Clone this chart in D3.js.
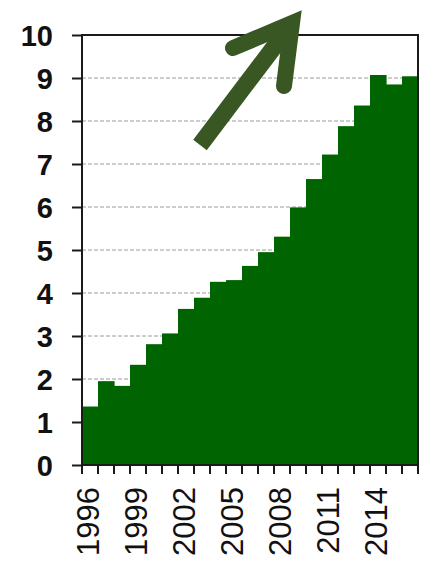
<!DOCTYPE html>
<html>
<head>
<meta charset="utf-8">
<script src="https://cdn.jsdelivr.net/npm/d3@7"></script>
<style>
  html, body { margin: 0; padding: 0; background: #fff; }
  svg { display: block; }
</style>
</head>
<body>
<svg id="chart" width="437" height="570"></svg>
<script>
const years = d3.range(1996, 2017);
const values = [1.36, 1.95, 1.84, 2.33, 2.81, 3.06, 3.63, 3.89, 4.26, 4.30, 4.63,
                4.95, 5.31, 5.99, 6.65, 7.22, 7.88, 8.36, 9.07, 8.85, 9.04];
const yTicks = [0, 1, 2, 3, 4, 5, 6, 7, 8, 9, 10];
const xLabelYears = [1996, 1999, 2002, 2005, 2008, 2011, 2014];

const svg = d3.select("#chart");
const pL = 82, pR = 418, pT = 35, pB = 465;

const x = d3.scaleBand().domain(years).range([pL, pR]).padding(0);
const y = d3.scaleLinear().domain([0, 10]).range([pB, pT]);
const bw = x.bandwidth();

// gridlines
svg.append("g").selectAll("line")
  .data(yTicks.filter(t => t > 0 && t < 10))
  .join("line")
  .attr("x1", pL).attr("x2", pR)
  .attr("y1", d => y(d)).attr("y2", d => y(d))
  .attr("stroke", "#9a9a9a").attr("stroke-width", 1)
  .attr("stroke-dasharray", "4,2");

// bars
svg.append("g").selectAll("rect")
  .data(years.map((yr, i) => ({ yr, v: values[i] })))
  .join("rect")
  .attr("x", d => x(d.yr))
  .attr("width", bw + 0.6)
  .attr("y", d => y(d.v))
  .attr("height", d => y(0) - y(d.v))
  .attr("fill", "#006400");

// frame
const frame = svg.append("g").attr("stroke", "#1a1a1a").attr("stroke-width", 2).attr("fill", "none");
frame.append("path").attr("d", `M${pL},${pT}H${pR}V${pB}H${pL}Z`);

// y axis
const yAxis = d3.axisLeft(y).tickValues(yTicks).tickSize(10).tickFormat(d3.format("d"));
const gy = svg.append("g").attr("transform", `translate(${pL},0)`).call(yAxis);
gy.select(".domain").remove();
gy.selectAll(".tick line").attr("stroke", "#1a1a1a").attr("stroke-width", 2);
gy.selectAll(".tick text")
  .attr("x", -29)
  .attr("dy", "0.36em")
  .attr("fill", "#111")
  .style("font-family", "'Liberation Sans', Arial, sans-serif")
  .style("font-weight", "bold")
  .style("font-size", "29px");

// x ticks at bar boundaries
const boundaries = years.map(yr => x(yr)).concat([x(years[years.length - 1]) + bw]);
svg.append("g").selectAll("line")
  .data(boundaries)
  .join("line")
  .attr("x1", d => d).attr("x2", d => d)
  .attr("y1", pB).attr("y2", pB + 9)
  .attr("stroke", "#1a1a1a").attr("stroke-width", 2);

// x labels
svg.append("g").selectAll("text")
  .data(xLabelYears)
  .join("text")
  .attr("transform", d => `translate(${x(d) + bw / 2 - 2},487) rotate(-90)`)
  .attr("text-anchor", "end")
  .attr("dy", "0.36em")
  .attr("fill", "#111")
  .style("font-family", "'Liberation Sans', Arial, sans-serif")
  .style("font-size", "31px")
  .text(d => d);

// arrow
const arrow = svg.append("g")
  .attr("stroke", "#385723").attr("fill", "none");
arrow.append("line")
  .attr("x1", 200).attr("y1", 145).attr("x2", 290).attr("y2", 26)
  .attr("stroke-width", 17).attr("stroke-linecap", "butt");
arrow.append("polyline")
  .attr("points", "233,48 292,23 284,86")
  .attr("stroke-width", 16)
  .attr("stroke-linecap", "round")
  .attr("stroke-linejoin", "miter")
  .attr("stroke-miterlimit", 6);
</script>
</body>
</html>
